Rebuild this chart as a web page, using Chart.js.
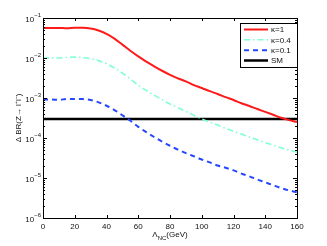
<!DOCTYPE html>
<html>
<head>
<meta charset="utf-8">
<script src="https://cdn.jsdelivr.net/npm/chart.js@4/dist/chart.umd.min.js"></script>
<style>
  html, body { margin: 0; padding: 0; background: #fff; }
  #wrap { width: 327px; height: 246px; }
</style>
</head>
<body>
<div id="wrap"><canvas id="chart" width="327" height="246"></canvas></div>
<script>
// Lambda_NC (GeV)
const xValues = [0, 5, 10, 15, 20, 25, 30, 35, 40, 45, 50, 55, 60, 65, 70, 75, 80,
  85, 90, 95, 100, 105, 110, 115, 120, 125, 130, 135, 140, 145, 150, 155, 160];

const kappa1 = [0.0560, 0.0562, 0.0566, 0.0552, 0.0570, 0.0568, 0.0545, 0.0485, 0.0400,
  0.0305, 0.0216, 0.0152, 0.0110, 0.0081, 0.0062, 0.0048, 0.0038, 0.0031, 0.0026,
  0.0021, 0.00178, 0.00148, 0.00126, 0.00105, 0.00089, 0.00074, 0.00063, 0.00053,
  0.00045, 0.00038, 0.00032, 0.00028, 0.00025];

const kappa04 = [0.0100, 0.0101, 0.0100, 0.0103, 0.0105, 0.0102, 0.0096, 0.0086, 0.0072,
  0.0056, 0.0042, 0.0030, 0.0021, 0.00155, 0.00118, 0.00091, 0.00071, 0.00057, 0.00046,
  0.00037, 0.00030, 0.00025, 0.00021, 0.000175, 0.000148, 0.000125, 0.000106, 0.000090,
  0.000077, 0.000066, 0.000057, 0.000050, 0.000044];

const kappa01 = [0.00092, 0.00092, 0.00090, 0.00095, 0.00095, 0.00094, 0.00089, 0.00078,
  0.00064, 0.00050, 0.00037, 0.00027, 0.00019, 0.000141, 0.000106, 0.000081, 0.000064,
  0.000051, 0.000042, 0.000035, 0.000029, 0.0000245, 0.0000205, 0.000018, 0.0000155,
  0.0000129, 0.000011, 0.0000092, 0.0000078, 0.0000066, 0.0000056, 0.0000049, 0.0000044];

const smX = [0, 160];
const smValues = [3.0e-4, 3.0e-4];

const seriesLabels = ["κ=1", "κ=0.4", "κ=0.1", "SM"];
const xTickValues = [0, 20, 40, 60, 80, 100, 120, 140, 160];
const yTickExponents = [-1, -2, -3, -4, -5, -6];

const FONT = "'Liberation Sans', Arial, sans-serif";

function points(xs, ys) {
  return xs.map((x, i) => ({ x: x, y: ys[i] }));
}

const matlabFrame = {
  id: "matlabFrame",
  afterDatasetsDraw(chart) {
    const { ctx, chartArea: a, scales } = chart;
    const xs = scales.x;
    const ys = scales.y;
    ctx.save();
    ctx.strokeStyle = "#000";
    ctx.lineWidth = 1;

    // box
    ctx.strokeRect(Math.round(a.left) + 0.5, Math.round(a.top) + 0.5,
      Math.round(a.width), Math.round(a.height));

    // x ticks, inward on top and bottom
    ctx.beginPath();
    xTickValues.forEach((v) => {
      const px = Math.round(xs.getPixelForValue(v)) + 0.5;
      ctx.moveTo(px, a.bottom); ctx.lineTo(px, a.bottom - 3);
      ctx.moveTo(px, a.top); ctx.lineTo(px, a.top + 3);
    });

    // y ticks (major + minor), inward on left and right
    for (let e = -6; e <= -2; e++) {
      for (let m = 1; m <= 9; m++) {
        const py = Math.round(ys.getPixelForValue(m * Math.pow(10, e))) + 0.5;
        const len = m === 1 ? 4 : 2;
        ctx.moveTo(a.left, py); ctx.lineTo(a.left + len, py);
        ctx.moveTo(a.right, py); ctx.lineTo(a.right - len, py);
      }
    }
    ctx.stroke();

    // y tick labels 10^n
    ctx.fillStyle = "#111";
    yTickExponents.forEach((e) => {
      const py = ys.getPixelForValue(Math.pow(10, e));
      const expText = "−" + Math.abs(e);
      ctx.font = "6px " + FONT;
      const ew = ctx.measureText(expText).width;
      const right = a.left - 2;
      ctx.textAlign = "right";
      ctx.textBaseline = "alphabetic";
      ctx.fillText(expText, right, py - 1);
      ctx.font = "8px " + FONT;
      ctx.fillText("10", right - ew, py + 4);
    });

    // x title with subscript
    const cx = (a.left + a.right) / 2;
    ctx.font = "8px " + FONT;
    const w1 = ctx.measureText("Λ").width;
    const w3 = ctx.measureText("(GeV)").width;
    ctx.font = "6px " + FONT;
    const w2 = ctx.measureText("NC").width;
    const tx = cx - (w1 + w2 + w3) / 2;
    ctx.textAlign = "left";
    ctx.font = "8px " + FONT;
    ctx.fillText("Λ", tx, 237);
    ctx.font = "6px " + FONT;
    ctx.fillText("NC", tx + w1, 240);
    ctx.font = "8px " + FONT;
    ctx.fillText("(GeV)", tx + w1 + w2, 237);

    // y title
    ctx.save();
    ctx.translate(21, (a.top + a.bottom) / 2);
    ctx.rotate(-Math.PI / 2);
    ctx.textAlign = "center";
    ctx.font = "8px " + FONT;
    ctx.fillText("Δ BR(Z→ l⁺l⁻)", 0, 0);
    ctx.restore();

    // legend box
    const lx = 240, ly = 23, lw = Math.round(a.right) - lx, lh = 44;
    ctx.fillStyle = "#fff";
    ctx.fillRect(lx, ly, lw, lh);
    ctx.strokeStyle = "#000";
    ctx.lineWidth = 1;
    ctx.strokeRect(lx + 0.5, ly + 0.5, lw, lh);
    const rows = [29.5, 39.8, 50.2, 60.5];
    chart.data.datasets.forEach((ds, i) => {
      const ry = rows[i];
      ctx.save();
      ctx.strokeStyle = ds.borderColor;
      ctx.lineWidth = ds.borderWidth;
      ctx.setLineDash(ds.borderDash || []);
      ctx.beginPath();
      ctx.moveTo(244, ry); ctx.lineTo(268, ry);
      ctx.stroke();
      ctx.restore();
      ctx.fillStyle = "#111";
      ctx.font = "8px " + FONT;
      ctx.textAlign = "left";
      ctx.textBaseline = "middle";
      ctx.fillText(ds.label, 271, ry + 0.5);
    });
    ctx.restore();
  }
};

new Chart(document.getElementById("chart"), {
  type: "line",
  data: {
    datasets: [
      {
        label: seriesLabels[0],
        data: points(xValues, kappa1),
        borderColor: "#ff1a1a",
        borderWidth: 2,
        cubicInterpolationMode: "monotone"
      },
      {
        label: seriesLabels[1],
        data: points(xValues, kappa04),
        borderColor: "#7fffd4",
        borderWidth: 1.6,
        borderDash: [6, 3, 1.5, 3],
        cubicInterpolationMode: "monotone"
      },
      {
        label: seriesLabels[2],
        data: points(xValues, kappa01),
        borderColor: "#2548ff",
        borderWidth: 2,
        borderDash: [5, 4],
        cubicInterpolationMode: "monotone"
      },
      {
        label: seriesLabels[3],
        data: points(smX, smValues),
        borderColor: "#000",
        borderWidth: 2.5
      }
    ]
  },
  options: {
    responsive: false,
    animation: false,
    devicePixelRatio: 1,
    layout: { padding: { left: 0, top: 18, right: 30, bottom: 0 } },
    elements: { point: { radius: 0 } },
    plugins: {
      legend: { display: false },
      tooltip: { enabled: false }
    },
    scales: {
      x: {
        type: "linear",
        min: 0,
        max: 160,
        afterFit: (scale) => { scale.height = 28; },
        afterBuildTicks: (scale) => { scale.ticks = xTickValues.map((v) => ({ value: v })); },
        grid: { display: false, drawTicks: false },
        border: { display: false },
        ticks: {
          color: "#111",
          padding: 4,
          maxRotation: 0,
          autoSkip: false,
          font: { family: FONT, size: 8 }
        }
      },
      y: {
        type: "logarithmic",
        min: 1e-6,
        max: 1e-1,
        afterFit: (scale) => { scale.width = 43; },
        grid: { display: false, drawTicks: false },
        border: { display: false },
        ticks: { display: false }
      }
    }
  },
  plugins: [matlabFrame]
});
</script>
</body>
</html>
